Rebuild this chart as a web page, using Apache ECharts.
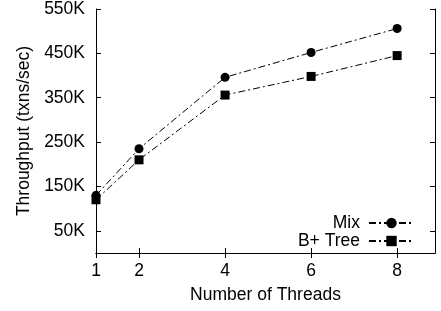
<!DOCTYPE html>
<html>
<head>
<meta charset="utf-8">
<script src="https://cdn.jsdelivr.net/npm/echarts@6/dist/echarts.min.js"></script>
<style>
  html, body { margin: 0; padding: 0; background: #fff; }
  #chart { width: 441px; height: 311px; }
</style>
</head>
<body>
<div id="chart"></div>
<script>
// threads on x, throughput (txns/sec) on y
const threads = [1, 2, 4, 6, 8];
const xTicks = [1, 2, 4, 6, 8];
const yTicks = [50000, 150000, 250000, 350000, 450000, 550000];
const mixValues = [130000, 235000, 396000, 452000, 506000];
const bTreeValues = [120000, 210000, 356000, 398000, 445000];

const font = 'Liberation Sans, Arial, Helvetica, sans-serif';
const dash = [7, 3, 2, 3];

function pairs(xs, ys) {
    return xs.map((x, i) => [x, ys[i]]);
}

const chart = echarts.init(document.getElementById('chart'));

const tickStyle = { show: true, inside: true, length: 5, lineStyle: { color: '#000', width: 1 } };
const lineStyle = { show: true, lineStyle: { color: '#000', width: 1 } };

const option = {
    animation: false,
    grid: { left: 96, right: 6, top: 8, bottom: 58 },
    xAxis: [
        {
            type: 'value', min: 1, max: 8.88, position: 'bottom',
            name: 'Number of Threads', nameLocation: 'middle', nameGap: 33,
            nameTextStyle: { fontFamily: font, fontSize: 17.5, color: '#000' },
            axisLine: lineStyle,
            axisTick: Object.assign({ customValues: xTicks }, tickStyle),
            axisLabel: { customValues: xTicks, margin: 9, fontFamily: font, fontSize: 17.5, color: '#000' },
            splitLine: { show: false }
        },
        {
            type: 'value', min: 1, max: 8.88, position: 'top',
            axisLine: lineStyle,
            axisTick: Object.assign({ customValues: xTicks }, tickStyle),
            axisLabel: { show: false },
            splitLine: { show: false }
        }
    ],
    yAxis: [
        {
            type: 'value', min: 0, max: 550000, position: 'left',
            name: 'Throughput (txns/sec)', nameLocation: 'middle', nameGap: 62,
            nameTextStyle: { fontFamily: font, fontSize: 17.5, color: '#000' },
            axisLine: lineStyle,
            axisTick: Object.assign({ customValues: yTicks }, tickStyle),
            axisLabel: {
                customValues: yTicks, margin: 11, fontFamily: font, fontSize: 17.5, color: '#000',
                formatter: v => (v / 1000) + 'K'
            },
            splitLine: { show: false }
        },
        {
            type: 'value', min: 0, max: 550000, position: 'right',
            axisLine: lineStyle,
            axisTick: Object.assign({ customValues: yTicks }, tickStyle),
            axisLabel: { show: false },
            splitLine: { show: false }
        }
    ],
    legend: {
        orient: 'vertical',
        right: 26,
        top: 214,
        align: 'right',
        itemWidth: 45,
        itemHeight: 13,
        itemGap: 0,
        padding: 0,
        textStyle: { fontFamily: font, fontSize: 17.5, color: '#000', lineHeight: 17, padding: [0, 4, 0, 0] },
        data: ['Mix', 'B+ Tree']
    },
    series: [
        {
            name: 'Mix', type: 'line', data: pairs(threads, mixValues),
            symbol: 'circle', symbolSize: 9,
            itemStyle: { color: '#000' },
            lineStyle: { color: '#000', width: 1, type: dash }
        },
        {
            name: 'B+ Tree', type: 'line', data: pairs(threads, bTreeValues),
            symbol: 'rect', symbolSize: 9,
            itemStyle: { color: '#000' },
            lineStyle: { color: '#000', width: 1, type: dash }
        }
    ]
};

chart.setOption(option);
</script>
</body>
</html>
